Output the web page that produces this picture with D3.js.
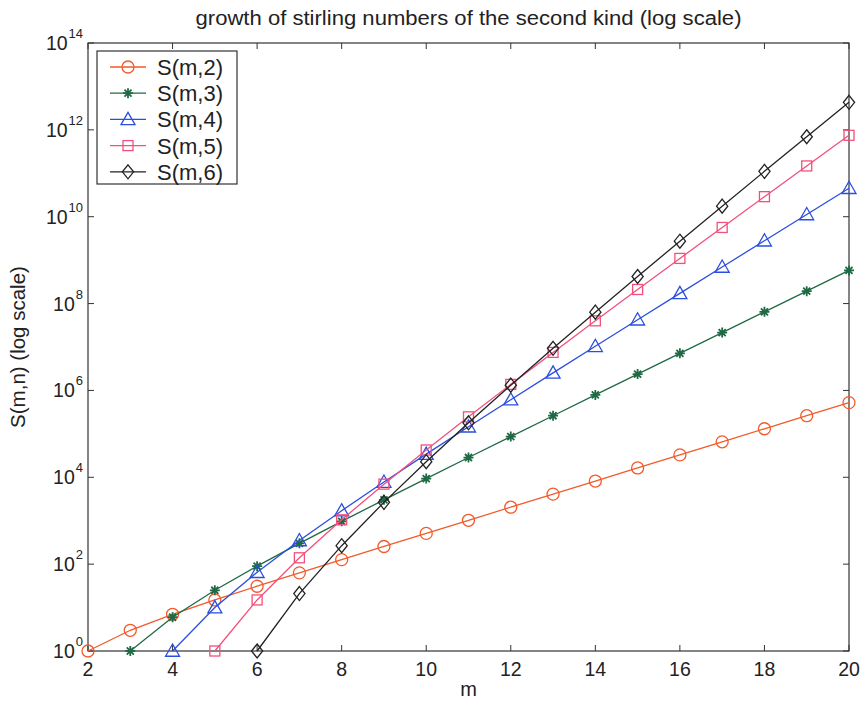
<!DOCTYPE html>
<html>
<head>
<meta charset="utf-8">
<script src="https://cdn.jsdelivr.net/npm/d3@7"></script>
<style>
  html, body { margin: 0; padding: 0; background: #fff; }
  svg { display: block; font-family: "Liberation Sans", Arial, Helvetica, sans-serif; }
</style>
</head>
<body>
<svg id="chart" width="862" height="702"></svg>
<script>
// Stirling numbers of the second kind S(m,n), m = n .. 20
const mS2 = [2,3,4,5,6,7,8,9,10,11,12,13,14,15,16,17,18,19,20];
const S2 = [1,3,7,15,31,63,127,255,511,1023,2047,4095,8191,16383,32767,65535,131071,262143,524287];

const mS3 = [3,4,5,6,7,8,9,10,11,12,13,14,15,16,17,18,19,20];
const S3 = [1,6,25,90,301,966,3025,9330,28501,86526,261625,788970,2375101,7141686,21457825,64439010,193448101,580606446];

const mS4 = [4,5,6,7,8,9,10,11,12,13,14,15,16,17,18,19,20];
const S4 = [1,10,65,350,1701,7770,34105,145750,611501,2532530,10391745,42355950,171798901,694337290,2798806985,11259666950,45232115901];

const mS5 = [5,6,7,8,9,10,11,12,13,14,15,16,17,18,19,20];
const S5 = [1,15,140,1050,6951,42525,246730,1379400,7508501,40075035,210766920,1096190550,5652751651,28958095545,147589284710,749206090500];

const mS6 = [6,7,8,9,10,11,12,13,14,15,16,17,18,19,20];
const S6 = [1,21,266,2646,22827,179487,1323652,9321312,63436373,420693273,2734926558,17505749898,110687251039,693081601779,4306078895384];

const seriesNames = ["S(m,2)", "S(m,3)", "S(m,4)", "S(m,5)", "S(m,6)"];
const seriesM = [mS2, mS3, mS4, mS5, mS6];
const seriesV = [S2, S3, S4, S5, S6];
const seriesColors = ["#f25a2a", "#1f6a45", "#2a4ee0", "#f2507c", "#222222"];
const seriesMarkers = ["circle", "star", "triangle", "square", "diamond"];

const xTicks = [2,4,6,8,10,12,14,16,18,20];
const yExponents = [0,2,4,6,8,10,12,14];

const titleText = "growth of stirling numbers of the second kind (log scale)";
const xLabelText = "m";
const yLabelText = "S(m,n) (log scale)";

const svg = d3.select("#chart");
const margin = { left: 88, right: 13, top: 43, bottom: 51 };
const W = 862, H = 702;
const x0 = margin.left, x1 = W - margin.right;
const y0 = H - margin.bottom, y1 = margin.top;

const x = d3.scaleLinear().domain([2, 20]).range([x0, x1]);
const y = d3.scaleLog().domain([1, 1e14]).range([y0, y1]);

const axisColor = "#333";
const tickLen = 6;

// frame
svg.append("rect")
  .attr("x", x0).attr("y", y1)
  .attr("width", x1 - x0).attr("height", y0 - y1)
  .attr("fill", "none").attr("stroke", axisColor).attr("stroke-width", 1.2);

// x ticks (inside, bottom and top)
const xg = svg.append("g");
xTicks.forEach(t => {
  const px = x(t);
  xg.append("line").attr("x1", px).attr("x2", px).attr("y1", y0).attr("y2", y0 - tickLen)
    .attr("stroke", axisColor).attr("stroke-width", 1);
  xg.append("line").attr("x1", px).attr("x2", px).attr("y1", y1).attr("y2", y1 + tickLen)
    .attr("stroke", axisColor).attr("stroke-width", 1);
  xg.append("text").attr("x", px).attr("y", y0 + 25)
    .attr("text-anchor", "middle").attr("font-size", 19.5).attr("fill", "#222")
    .text(t);
});

// y ticks (inside, left and right) with power-of-ten labels
const yg = svg.append("g");
yExponents.forEach(e => {
  const py = y(Math.pow(10, e));
  yg.append("line").attr("x1", x0).attr("x2", x0 + tickLen).attr("y1", py).attr("y2", py)
    .attr("stroke", axisColor).attr("stroke-width", 1);
  yg.append("line").attr("x1", x1).attr("x2", x1 - tickLen).attr("y1", py).attr("y2", py)
    .attr("stroke", axisColor).attr("stroke-width", 1);
  const supW = String(e).length * 7.2;
  yg.append("text").attr("x", x0 - 6 - supW).attr("y", py + 7)
    .attr("text-anchor", "end").attr("font-size", 19.5).attr("fill", "#222")
    .text("10");
  yg.append("text").attr("x", x0 - 6 - supW + 1).attr("y", py - 5)
    .attr("text-anchor", "start").attr("font-size", 13).attr("fill", "#222")
    .text(e);
});

// titles
svg.append("text").attr("x", (x0 + x1) / 2).attr("y", 25)
  .attr("text-anchor", "middle").attr("font-size", 20).attr("fill", "#222")
  .attr("textLength", 546).attr("lengthAdjust", "spacingAndGlyphs")
  .text(titleText);
svg.append("text").attr("x", (x0 + x1) / 2).attr("y", 696)
  .attr("text-anchor", "middle").attr("font-size", 20).attr("fill", "#222")
  .text(xLabelText);
svg.append("text")
  .attr("transform", `translate(25, ${(y0 + y1) / 2}) rotate(-90)`)
  .attr("text-anchor", "middle").attr("font-size", 20.5).attr("fill", "#222")
  .text(yLabelText);

// marker drawing
function drawMarker(g, kind, cx, cy, color) {
  const sw = 1.3;
  if (kind === "circle") {
    g.append("circle").attr("cx", cx).attr("cy", cy).attr("r", 6)
      .attr("fill", "none").attr("stroke", color).attr("stroke-width", sw);
  } else if (kind === "square") {
    g.append("rect").attr("x", cx - 5).attr("y", cy - 5).attr("width", 10).attr("height", 10)
      .attr("fill", "none").attr("stroke", color).attr("stroke-width", sw);
  } else if (kind === "triangle") {
    const s = 7;
    g.append("path").attr("d", `M${cx},${cy - s} L${cx + s},${cy + s * 0.75} L${cx - s},${cy + s * 0.75} Z`)
      .attr("fill", "none").attr("stroke", color).attr("stroke-width", sw);
  } else if (kind === "diamond") {
    const s = 7;
    g.append("path").attr("d", `M${cx},${cy - s} L${cx + s * 0.8},${cy} L${cx},${cy + s} L${cx - s * 0.8},${cy} Z`)
      .attr("fill", "none").attr("stroke", color).attr("stroke-width", sw);
  } else if (kind === "star") {
    const s = 5;
    const d = [];
    for (let k = 0; k < 4; k++) {
      const a = k * Math.PI / 4;
      d.push(`M${cx - s * Math.cos(a)},${cy - s * Math.sin(a)} L${cx + s * Math.cos(a)},${cy + s * Math.sin(a)}`);
    }
    g.append("path").attr("d", d.join(" "))
      .attr("fill", "none").attr("stroke", color).attr("stroke-width", 1.8);
  }
}

// series
const line = d3.line().x(d => x(d[0])).y(d => y(d[1]));
const plot = svg.append("g");
seriesNames.forEach((name, i) => {
  const pts = seriesM[i].map((m, j) => [m, seriesV[i][j]]);
  const g = plot.append("g");
  g.append("path").datum(pts).attr("d", line)
    .attr("fill", "none").attr("stroke", seriesColors[i]).attr("stroke-width", 1.3);
  pts.forEach(p => drawMarker(g, seriesMarkers[i], x(p[0]), y(p[1]), seriesColors[i]));
});

// legend
const lg = svg.append("g");
const lx = 97, ly = 51, lw = 140, lh = 133;
lg.append("rect").attr("x", lx).attr("y", ly).attr("width", lw).attr("height", lh)
  .attr("fill", "#fff").attr("stroke", axisColor).attr("stroke-width", 1.2);
seriesNames.forEach((name, i) => {
  const cy = ly + 16 + i * 26.2;
  lg.append("line").attr("x1", lx + 13).attr("x2", lx + 49).attr("y1", cy).attr("y2", cy)
    .attr("stroke", seriesColors[i]).attr("stroke-width", 1.3);
  drawMarker(lg, seriesMarkers[i], lx + 31, cy, seriesColors[i]);
  lg.append("text").attr("x", lx + 60).attr("y", cy + 8)
    .attr("font-size", 22).attr("fill", "#222").text(name);
});
</script>
</body>
</html>
